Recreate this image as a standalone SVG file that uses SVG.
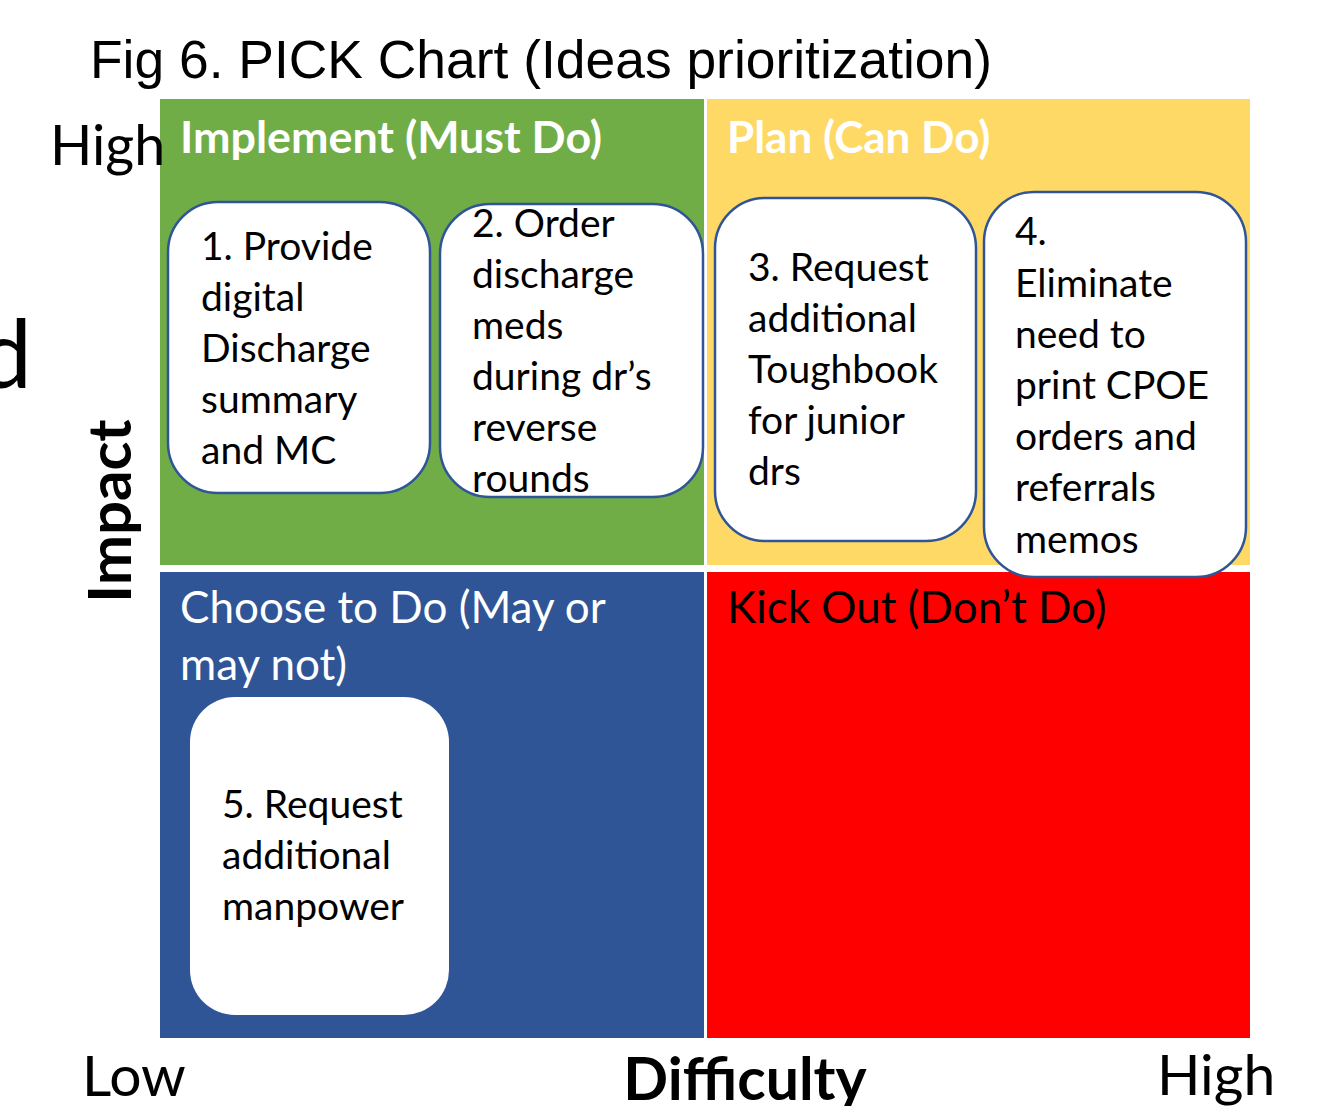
<svg xmlns="http://www.w3.org/2000/svg" width="1336" height="1106" viewBox="0 0 1336 1106">
<style>
.t{font-family:Lato,"Liberation Sans",sans-serif}
.box{fill:#fff;stroke:#2F5597;stroke-width:2.5}
.bt{font-family:Lato,"Liberation Sans",sans-serif;font-size:39px;fill:#000}
.hd{font-family:Lato,"Liberation Sans",sans-serif;font-size:44px}
</style>
<rect width="1336" height="1106" fill="#fff"/>
<text x="90" y="78" font-family="'Liberation Sans',Arial,sans-serif" font-size="53.4" fill="#000">Fig 6. PICK Chart (Ideas prioritization)</text>
<text x="32" y="388" text-anchor="end" class="t" font-size="95" fill="#000">d</text>
<g id="quadrants">
<rect id="q-implement" x="160" y="99" width="544" height="466" fill="#70AD47"/>
<rect id="q-plan" x="707" y="99" width="543" height="466" fill="#FFD966"/>
<rect id="q-choose" x="160" y="572" width="544" height="466" fill="#2F5597"/>
<rect id="q-kick" x="707" y="572" width="543" height="466" fill="#FF0000"/>
</g>
<text class="hd" x="180" y="153" font-weight="bold" font-size="44.8" style="font-size:44.8px" fill="#fff">Implement (Must Do)</text>
<text class="hd" x="727" y="153" font-weight="bold" fill="#fff">Plan (Can Do)</text>
<text class="hd" x="180" y="623" fill="#fff">Choose to Do (May or</text>
<text class="hd" x="180" y="680" fill="#fff">may not)</text>
<text class="hd" x="727" y="623" fill="#000">Kick Out (Don’t Do)</text>
<text class="t" x="50" y="165" font-size="55.5" fill="#000">High</text>
<text class="t" transform="translate(131,511) rotate(-90)" text-anchor="middle" font-size="60" font-weight="bold" fill="#000">Impact</text>
<text class="t" x="82" y="1096" font-size="57" fill="#000">Low</text>
<text class="t" x="745" y="1100" text-anchor="middle" font-size="59" font-weight="bold" fill="#000">Difficulty</text>
<text class="t" x="1157" y="1095" font-size="57" fill="#000">High</text>
<g id="node1">
<rect class="box" x="168" y="202" width="262" height="291" rx="50"/>
<text class="bt"><tspan x="201" y="260">1. Provide</tspan><tspan x="201" y="311">digital</tspan><tspan x="201" y="362">Discharge</tspan><tspan x="201" y="413">summary</tspan><tspan x="201" y="464">and MC</tspan></text>
</g>
<g id="node2">
<rect class="box" x="440" y="204" width="263" height="293" rx="50"/>
<text class="bt"><tspan x="472" y="237">2. Order</tspan><tspan x="472" y="288">discharge</tspan><tspan x="472" y="339">meds</tspan><tspan x="472" y="390">during dr’s</tspan><tspan x="472" y="441">reverse</tspan><tspan x="472" y="492">rounds</tspan></text>
</g>
<g id="node3">
<rect class="box" x="715" y="198" width="261" height="343" rx="50"/>
<text class="bt"><tspan x="748" y="281">3. Request</tspan><tspan x="748" y="332">additional</tspan><tspan x="748" y="383">Toughbook</tspan><tspan x="748" y="434">for junior</tspan><tspan x="748" y="485">drs</tspan></text>
</g>
<g id="node4">
<rect class="box" x="984" y="192" width="262" height="385" rx="50"/>
<text class="bt"><tspan x="1015" y="245">4.</tspan><tspan x="1015" y="297">Eliminate</tspan><tspan x="1015" y="348">need to</tspan><tspan x="1015" y="399">print CPOE</tspan><tspan x="1015" y="450">orders and</tspan><tspan x="1015" y="501">referrals</tspan><tspan x="1015" y="553">memos</tspan></text>
</g>
<g id="node5">
<rect x="190" y="697" width="259" height="318" rx="45" fill="#fff"/>
<text class="bt"><tspan x="222" y="818">5. Request</tspan><tspan x="222" y="869">additional</tspan><tspan x="222" y="920">manpower</tspan></text>
</g>
<g id="connectors"></g>
</svg>
